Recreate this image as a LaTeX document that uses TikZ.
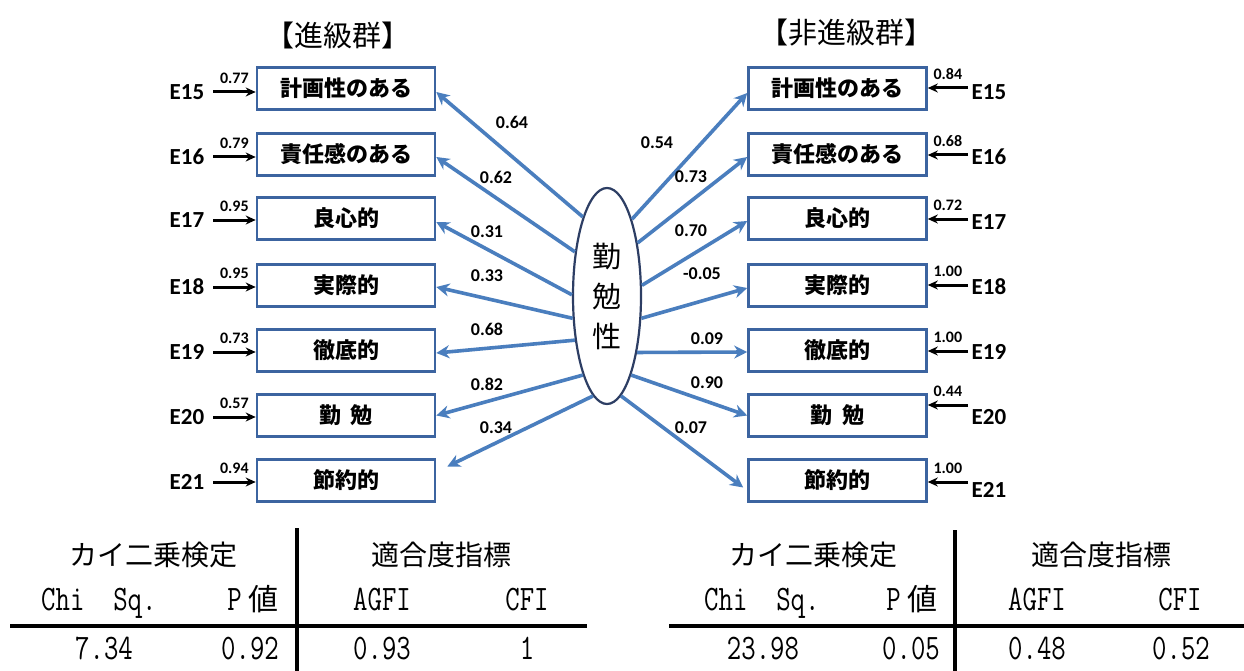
\documentclass[tikz,border=0pt]{standalone}
\usepackage{fontspec}
\usepackage{graphicx}
\newfontfamily\jpf{Noto Sans CJK JP}
\newfontfamily\carl{Carlito}
\usetikzlibrary{arrows.meta,shapes.geometric}
\definecolor{boxblue}{RGB}{60,100,160}
\definecolor{arrblue}{RGB}{74,126,190}
\definecolor{ellline}{RGB}{45,62,100}
\newcommand{\tall}[1]{\scalebox{1}[1.28]{#1}}
\begin{document}
\begin{tikzpicture}[x=1pt,y=-1pt,
 itembox/.style={draw=boxblue,line width=2.6pt,minimum width=178pt,minimum height=42pt,inner sep=0pt,font=\jpf\bfseries\fontsize{22}{24}\selectfont},
 factorell/.style={draw=ellline,line width=2.2pt,ellipse,minimum width=68pt,minimum height=216pt,inner sep=0pt,align=center,font=\jpf\fontsize{29}{40}\selectfont},
 loadarrow/.style={draw=arrblue,line width=3.6pt,-{Stealth[length=13pt,width=13pt]}},
 coeflab/.style={font=\carl\bfseries\fontsize{18}{20}\selectfont,inner sep=0pt},
 elabel/.style={font=\carl\bfseries\fontsize{23}{24}\selectfont,inner sep=0pt},
 errarrow/.style={draw=black,line width=3pt,-{Stealth[length=10pt,width=9pt]}},
 errnum/.style={font=\carl\bfseries\fontsize{16}{17}\selectfont,inner sep=0pt,midway,above=7pt},
 grouptitle/.style={font=\jpf\fontsize{29}{30}\selectfont,inner sep=0pt},
 tabhead/.style={font=\jpf\fontsize{28}{30}\selectfont,inner sep=0pt},
 tabmono/.style={font=\ttfamily\fontsize{28}{30}\selectfont,inner sep=0pt},
 tabrule/.style={line width=3.5pt,draw=black}
]
\useasboundingbox (0,0) rectangle (1244,671);
\fill[white] (0,0) rectangle (1244,671);

% titles
\node[grouptitle] (T1) at (338,35) {【進級群】};
\node[grouptitle] (T2) at (846,33) {【非進級群】};

% left boxes
\node[itembox] (L1) at (346,88.5) {計画性のある};
\node[itembox] (L2) at (346,154.5) {責任感のある};
\node[itembox] (L3) at (346,218.5) {良心的};
\node[itembox] (L4) at (346,285.5) {実際的};
\node[itembox] (L5) at (346,350.5) {徹底的};
\node[itembox] (L6) at (346,415.5) {勤\hspace{0.45em}勉};
\node[itembox] (L7) at (346,480.5) {節約的};

% right boxes
\node[itembox] (R1) at (837.5,88.5) {計画性のある};
\node[itembox] (R2) at (837.5,154.5) {責任感のある};
\node[itembox] (R3) at (837.5,218.5) {良心的};
\node[itembox] (R4) at (837.5,285.5) {実際的};
\node[itembox] (R5) at (837.5,350.5) {徹底的};
\node[itembox] (R6) at (837.5,415.5) {勤\hspace{0.45em}勉};
\node[itembox] (R7) at (837.5,480.5) {節約的};

% factor
\node[factorell] (F) at (607,296) {勤\\勉\\性};

% left loadings
\draw[loadarrow] (F.107.4) -- ([yshift=-3.5pt]L1.east);
\draw[loadarrow] (F.126.8) -- ([yshift=-2.5pt]L2.east);
\draw[loadarrow] (F.178.4) -- ([yshift=-3.5pt]L3.east);
\draw[loadarrow] (F.213.9) -- ([yshift=-1.5pt]L4.east);
\draw[loadarrow] (F.234) -- ([yshift=-2.5pt]L5.east);
\draw[loadarrow] (F.253) -- (L6.east);
\draw[loadarrow] (F.262.6) -- ([xshift=11pt,yshift=14pt]L7.east);

% right loadings
\draw[loadarrow] (F.72.6) -- ([yshift=-4.5pt]R1.west);
\draw[loadarrow] (F.60) -- ([yshift=-2.5pt]R2.west);
\draw[loadarrow] (F.17.5) -- ([yshift=-2.5pt]R3.west);
\draw[loadarrow] (F.327.3) -- ([yshift=-2.5pt]R4.west);
\draw[loadarrow] (F.298.2) -- ([yshift=-1.5pt]R5.west);
\draw[loadarrow] (F.287) -- (R6.west);
\draw[loadarrow] (F.278.4) -- ([xshift=-4pt,yshift=-7pt]R7.west);

% loading labels
\node[coeflab] (c1) at (512,122) {0.64};
\node[coeflab] (c2) at (496,177) {0.62};
\node[coeflab] (c3) at (487,232) {0.31};
\node[coeflab] (c4) at (487,276) {0.33};
\node[coeflab] (c5) at (487,329) {0.68};
\node[coeflab] (c6) at (487,384) {0.82};
\node[coeflab] (c7) at (496,428) {0.34};
\node[coeflab] (d1) at (657,143) {0.54};
\node[coeflab] (d2) at (691,177) {0.73};
\node[coeflab] (d3) at (691,231) {0.70};
\node[coeflab] (d4) at (702,274) {-0.05};
\node[coeflab] (d5) at (707,339) {0.09};
\node[coeflab] (d6) at (707,383) {0.90};
\node[coeflab] (d7) at (691,428) {0.07};

% left errors
\node[elabel] (EL1) at (187,92) {E15};
\node[elabel] (EL2) at (187,157) {E16};
\node[elabel] (EL3) at (187,220) {E17};
\node[elabel] (EL4) at (187,287) {E18};
\node[elabel] (EL5) at (187,352) {E19};
\node[elabel] (EL6) at (187,417) {E20};
\node[elabel] (EL7) at (187,482) {E21};
\coordinate (AL1) at (213,92);
\coordinate (AL2) at (213,157);
\coordinate (AL3) at (213,220);
\coordinate (AL4) at (213,287);
\coordinate (AL5) at (213,352);
\coordinate (AL6) at (213,417);
\coordinate (AL7) at (213,482);
\draw[errarrow] (AL1) -- (L1.west |- AL1) node[errnum] (n1) {0.77};
\draw[errarrow] (AL2) -- (L2.west |- AL2) node[errnum] (n2) {0.79};
\draw[errarrow] (AL3) -- (L3.west |- AL3) node[errnum] (n3) {0.95};
\draw[errarrow] (AL4) -- (L4.west |- AL4) node[errnum] (n4) {0.95};
\draw[errarrow] (AL5) -- (L5.west |- AL5) node[errnum] (n5) {0.73};
\draw[errarrow] (AL6) -- (L6.west |- AL6) node[errnum] (n6) {0.57};
\draw[errarrow] (AL7) -- (L7.west |- AL7) node[errnum] (n7) {0.94};

% right errors
\node[elabel] (ER1) at (989,92) {E15};
\node[elabel] (ER2) at (989,157) {E16};
\node[elabel] (ER3) at (989,222) {E17};
\node[elabel] (ER4) at (989,287) {E18};
\node[elabel] (ER5) at (989,352) {E19};
\node[elabel] (ER6) at (989,417) {E20};
\node[elabel] (ER7) at (989,490) {E21};
\coordinate (AR1) at (968,88);
\coordinate (AR2) at (968,155);
\coordinate (AR3) at (968,219);
\coordinate (AR4) at (968,285);
\coordinate (AR5) at (968,351);
\coordinate (AR6) at (968,405);
\coordinate (AR7) at (968,482);
\draw[errarrow] (AR1) -- (R1.east |- AR1) node[errnum] (m1) {0.84};
\draw[errarrow] (AR2) -- (R2.east |- AR2) node[errnum] (m2) {0.68};
\draw[errarrow] (AR3) -- (R3.east |- AR3) node[errnum] (m3) {0.72};
\draw[errarrow] (AR4) -- (R4.east |- AR4) node[errnum] (m4) {1.00};
\draw[errarrow] (AR5) -- (R5.east |- AR5) node[errnum] (m5) {1.00};
\draw[errarrow] (AR6) -- (R6.east |- AR6) node[errnum] (m6) {0.44};
\draw[errarrow] (AR7) -- (R7.east |- AR7) node[errnum] (m7) {1.00};

% left table
\draw[tabrule] (297,528) -- (297,671);
\draw[tabrule] (10,626) -- (587,626);
\node[tabhead] (h1) at (153,555) {カイ二乗検定};
\node[tabhead] (h2) at (441,555) {適合度指標};
\node[tabmono,anchor=base west] (s1) at (41,610) {\tall{Chi~~Sq.}};
\node[tabmono,anchor=base east] (p1) at (279,610) {\tall{P}\hspace{0.25em}{\jpf\fontsize{30}{32}\selectfont 値}};
\node[tabmono,anchor=base] (a1) at (382,610) {\tall{AGFI}};
\node[tabmono,anchor=base] (f1) at (527,610) {\tall{CFI}};
\node[tabmono,anchor=base] (v1) at (104,659) {\tall{7.34}};
\node[tabmono,anchor=base] (v2) at (250,659) {\tall{0.92}};
\node[tabmono,anchor=base] (v3) at (382,659) {\tall{0.93}};
\node[tabmono,anchor=base] (v4) at (527,659) {\tall{1}};

% right table
\draw[tabrule] (955,530) -- (955,671);
\draw[tabrule] (669,626) -- (1244,626);
\node[tabhead] (h3) at (813,555) {カイ二乗検定};
\node[tabhead] (h4) at (1101,555) {適合度指標};
\node[tabmono,anchor=base west] (s2) at (704,610) {\tall{Chi~~Sq.}};
\node[tabmono,anchor=base east] (p2) at (938,610) {\tall{P}\hspace{0.25em}{\jpf\fontsize{30}{32}\selectfont 値}};
\node[tabmono,anchor=base] (a2) at (1037,610) {\tall{AGFI}};
\node[tabmono,anchor=base] (f2) at (1180,610) {\tall{CFI}};
\node[tabmono,anchor=base] (w1) at (763,659) {\tall{23.98}};
\node[tabmono,anchor=base] (w2) at (911,659) {\tall{0.05}};
\node[tabmono,anchor=base] (w3) at (1037,659) {\tall{0.48}};
\node[tabmono,anchor=base] (w4) at (1181,659) {\tall{0.52}};
\end{tikzpicture}
\end{document}
